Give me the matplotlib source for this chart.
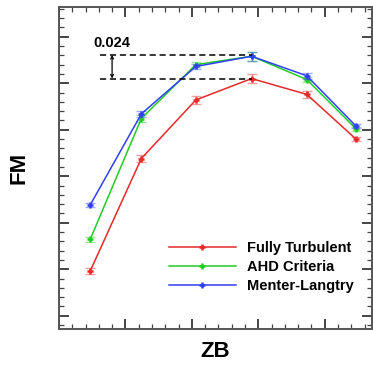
import numpy as np
import matplotlib.pyplot as plt
from matplotlib.lines import Line2D
from matplotlib.ticker import MultipleLocator, NullFormatter

plt.rcParams['font.family'] = ['Liberation Sans', 'DejaVu Sans']

# данные
zb = [0.47, 1.24, 2.06, 2.90, 3.73, 4.47]
fm_ft = [0.448, 0.569, 0.632, 0.655, 0.638, 0.590]
fm_ahd = [0.482, 0.612, 0.670, 0.679, 0.654, 0.601]
fm_ml = [0.519, 0.617, 0.668, 0.679, 0.658, 0.604]
err_ft = [0.003, 0.004, 0.004, 0.005, 0.004, 0.002]
err_ahd = [0.003, 0.004, 0.003, 0.005, 0.003, 0.002]
err_ml = [0.002, 0.003, 0.003, 0.005, 0.003, 0.002]
labels = ['Fully Turbulent', 'AHD Criteria', 'Menter-Langtry']
colors = ['#e52a2a', '#22cc22', '#3040f0']

fig = plt.figure(figsize=(3.73, 3.67), dpi=100)
ax = fig.add_axes([0.158, 0.1035, 0.839, 0.8775])

handles = []
for y, e, c, lab in zip([fm_ft, fm_ahd, fm_ml], [err_ft, err_ahd, err_ml], colors, labels):
    ax.errorbar(zb, y, yerr=e, fmt='none', ecolor=c, elinewidth=1, capsize=3.5, alpha=0.45)
    ax.plot(zb, y, color=c, lw=1.1, marker='+', ms=5, mew=1.8)
    handles.append(Line2D([], [], color=c, lw=1.1, marker='+', ms=5, mew=1.8, label=lab))

# разница 0.024
y_top = max(fm_ml)
y_bot = max(fm_ft)
ax.hlines([y_top + 0.0015, y_bot], 0.62, zb[3], colors='k', linestyles=(0, (4, 2.5)), lw=1.1)
ax.annotate('', xy=(0.80, y_top + 0.0015), xytext=(0.80, y_bot),
            arrowprops=dict(arrowstyle='<->', color='k', lw=0.9, mutation_scale=5,
                            shrinkA=0, shrinkB=0))
ax.text(0.52, 0.693, '0.024', fontsize=10.5, fontweight='bold', va='center', ha='left')

ax.set_xlim(0, 4.71)
ax.set_ylim(0.3857, 0.732)
ax.xaxis.set_major_locator(MultipleLocator(1))
ax.xaxis.set_minor_locator(MultipleLocator(0.2))
ax.yaxis.set_major_locator(MultipleLocator(0.05))
ax.yaxis.set_minor_locator(MultipleLocator(0.01))
ax.xaxis.set_major_formatter(NullFormatter())
ax.yaxis.set_major_formatter(NullFormatter())
ax.tick_params(which='both', direction='in', top=True, right=True, color='#444444')
ax.tick_params(which='major', length=7, width=1.4)
ax.tick_params(which='minor', length=3.5, width=0.9)
for s in ax.spines.values():
    s.set_color('#555555')
    s.set_linewidth(1.4)

ax.set_xlabel('ZB', fontsize=16, fontweight='bold', labelpad=5)
ax.set_ylabel('FM', fontsize=16, fontweight='bold', labelpad=18)

leg = ax.legend(handles=handles, loc='lower right', frameon=False,
                prop={'weight': 'bold', 'size': 10.5},
                handlelength=4.6, handletextpad=0.8, labelspacing=0.35,
                bbox_to_anchor=(0.985, 0.07))

fig.savefig('out.png', dpi=100)
